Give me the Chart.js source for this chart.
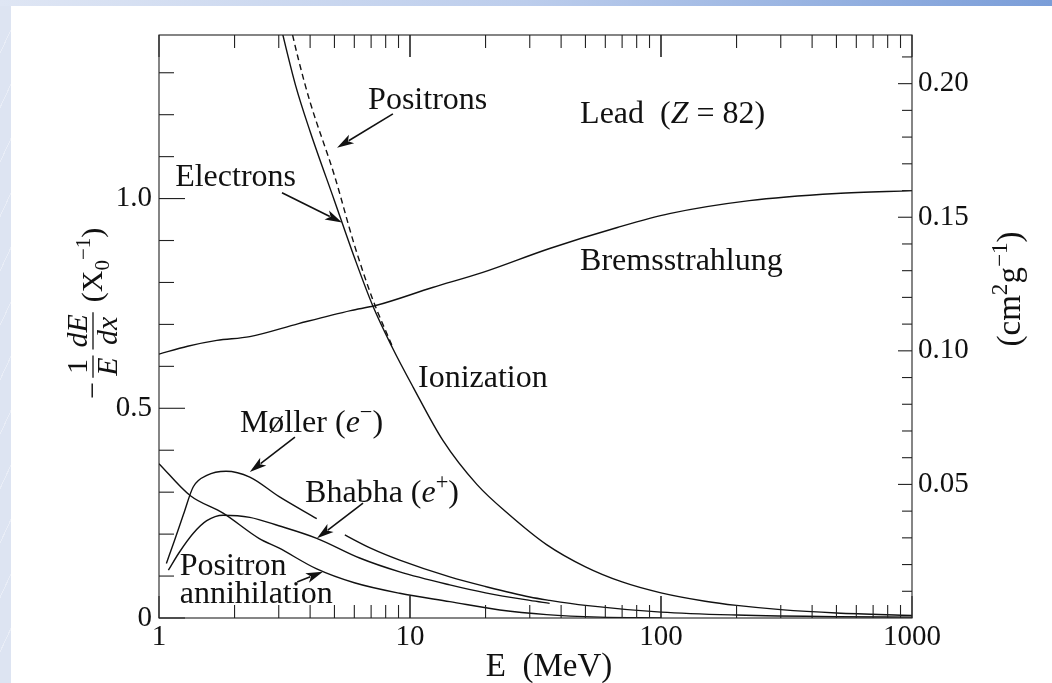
<!DOCTYPE html>
<html>
<head>
<meta charset="utf-8">
<script src="https://cdn.jsdelivr.net/npm/chart.js@4.4.1/dist/chart.umd.min.js"></script>
<style>
  html, body { margin: 0; padding: 0; }
  body { width: 1052px; height: 683px; position: relative; overflow: hidden;
    background: #dde4f2 repeating-linear-gradient(115deg, rgba(255,255,255,0) 0 22px, rgba(255,255,255,0.35) 22px 23px); }
  #banda { position: absolute; left: 0; top: 0; width: 1052px; height: 6px;
    background: linear-gradient(to right, #dfe6f4, #bccdec 50%, #7a9dd8); }
  #hoja { position: absolute; left: 11px; top: 6px; right: 0; bottom: 0; background: #fff; }
  #grafico { position: absolute; left: 0; top: 0; }
</style>
</head>
<body>
<div id="banda"></div>
<div id="hoja"></div>
<canvas id="grafico" width="1052" height="683"></canvas>
<script>
// energía en MeV, valores en X0^-1
const bremsE = [1, 1.3, 1.7, 2.3, 3.6, 5.8, 7.3, 12.3, 19.5, 36, 67, 108, 225, 500, 1000];
const bremsVal = [0.629, 0.648, 0.662, 0.671, 0.702, 0.733, 0.745, 0.788, 0.824, 0.881, 0.931, 0.964, 0.995, 1.012, 1.019];

const ionE = [3.0, 3.5, 4, 5, 6, 7.1, 8.5, 10.3, 13.5, 18.5, 25, 35, 50, 70, 100, 150, 200, 300, 500, 1000];
const ionElecVal = [1.43, 1.27, 1.16, 0.995, 0.86, 0.745, 0.645, 0.55, 0.424, 0.318, 0.245, 0.175, 0.122, 0.086, 0.06, 0.04, 0.03, 0.02, 0.012, 0.006];

const ionPosE = [3.2, 3.6, 4, 5, 6, 7.1, 8.5];
const ionPosVal = [1.46, 1.33, 1.23, 1.055, 0.89, 0.76, 0.648];

const mollerE = [1.07, 1.15, 1.25, 1.37, 1.55, 1.85, 2.3, 3, 4.25, 4.8, 5.5, 7, 9.1, 14.4, 20, 30, 36, 50, 100, 200, 500, 1000];
const mollerVal = [0.13, 0.183, 0.246, 0.313, 0.34, 0.35, 0.336, 0.29, 0.237, null, 0.198, 0.166, 0.138, 0.098, 0.075, 0.05, 0.042, 0.03, 0.014, 0.007, 0.003, 0.002];

const bhabhaE = [1.09, 1.2, 1.37, 1.55, 1.8, 2.3, 3, 4.25, 6.3, 9.1, 14.4, 20, 30, 36];
const bhabhaVal = [0.114, 0.155, 0.202, 0.232, 0.245, 0.24, 0.22, 0.19, 0.143, 0.11, 0.079, 0.06, 0.042, 0.035];

const aniqE = [1, 1.33, 1.8, 2.5, 3, 4.25, 6, 9.1, 14.4, 22.8, 35, 57, 100];
const aniqVal = [0.368, 0.292, 0.25, 0.19, 0.167, 0.117, 0.084, 0.059, 0.039, 0.019, 0.008, 0.002, 0.0];

const xTicks = [1, 10, 100, 1000];
const yTicks = [0, 0.5, 1.0];
const y2Ticks = [0.05, 0.10, 0.15, 0.20];
const X0_PLOMO = 6.37;   // g/cm^2, para el eje derecho
const Y_MAX = 1.39;

const SERIF = "'Liberation Serif', 'DejaVu Serif', serif";

const puntos = (es, vs) => es.map((e, i) => ({ x: e, y: vs[i] }));

const linea = (data, dash) => ({
  data,
  borderColor: '#111',
  borderWidth: 1.4,
  borderDash: dash || [],
  pointRadius: 0,
  fill: false,
  cubicInterpolationMode: 'monotone',
  spanGaps: false
});

// textos y flechas, en coordenadas de datos (E, valor)
const notas = [
  { e: 6.81, v: 1.214, partes: [{ t: 'Positrons' }] },
  { e: 1.16, v: 1.029, partes: [{ t: 'Electrons' }] },
  { e: 47.6, v: 1.179, partes: [{ t: 'Lead  (' }, { t: 'Z', it: true }, { t: ' = 82)' }] },
  { e: 47.6, v: 0.83, partes: [{ t: 'Bremsstrahlung' }] },
  { e: 10.76, v: 0.551, partes: [{ t: 'Ionization' }] },
  { e: 2.10, v: 0.443, partes: [{ t: 'Møller (' }, { t: 'e', it: true }, { t: '−', sup: true }, { t: ')' }] },
  { e: 3.82, v: 0.276, partes: [{ t: 'Bhabha (' }, { t: 'e', it: true }, { t: '+', sup: true }, { t: ')' }] },
  { e: 1.21, v: 0.102, partes: [{ t: 'Positron' }] },
  { e: 1.21, v: 0.036, partes: [{ t: 'annihilation' }] }
];

const flechas = [
  { de: [8.55, 1.202], a: [5.12, 1.121] },
  { de: [3.09, 1.014], a: [5.36, 0.943] },
  { de: [3.48, 0.431], a: [2.30, 0.348] },
  { de: [6.50, 0.274], a: [4.26, 0.19] },
  { de: [3.55, 0.086], a: [4.50, 0.110] }
];

function textoRico(ctx, x, y, partes, size, medir) {
  let cx = x;
  partes.forEach(p => {
    const fs = p.sup ? size * 0.7 : (p.sub ? size * 0.7 : size);
    ctx.font = `${p.it ? 'italic ' : ''}${fs}px ${SERIF}`;
    const dy = p.sup ? -size * 0.4 : (p.sub ? size * 0.22 : 0);
    if (!medir) ctx.fillText(p.t, cx, y + dy);
    cx += ctx.measureText(p.t).width;
  });
  return cx - x;
}

const marcoYTicks = {
  id: 'marcoYTicks',
  afterDatasetsDraw(chart) {
    const { ctx, chartArea: a, scales } = chart;
    ctx.save();
    ctx.strokeStyle = '#222';
    ctx.lineWidth = 1.1;
    const raya = (x1, y1, x2, y2) => { ctx.beginPath(); ctx.moveTo(x1, y1); ctx.lineTo(x2, y2); ctx.stroke(); };
    ctx.strokeRect(a.left, a.top, a.right - a.left, a.bottom - a.top);
    for (let d = 1; d < 1000; d *= 10) {
      for (let m = 1; m <= 10; m++) {
        const px = scales.x.getPixelForValue(d * m);
        const largo = (m === 1 || m === 10) ? 22 : 13;
        raya(px, a.bottom, px, a.bottom - largo);
        raya(px, a.top, px, a.top + largo);
      }
    }
    for (let i = 0; i <= 13; i++) {
      const py = scales.y.getPixelForValue(i / 10);
      raya(a.left, py, a.left + (i % 5 === 0 ? 26 : 15), py);
    }
    for (let i = 1; i <= 21; i++) {
      const py = scales.y2.getPixelForValue(i / 100);
      raya(a.right, py, a.right - (i % 5 === 0 ? 14 : 10), py);
    }
    ctx.restore();
  }
};

const anotaciones = {
  id: 'anotaciones',
  afterDraw(chart) {
    const { ctx, scales } = chart;
    const sx = e => scales.x.getPixelForValue(e);
    const sy = v => scales.y.getPixelForValue(v);
    ctx.save();
    ctx.fillStyle = '#111';
    ctx.strokeStyle = '#111';
    ctx.textBaseline = 'alphabetic';
    notas.forEach(n => textoRico(ctx, sx(n.e), sy(n.v), n.partes, 32));

    flechas.forEach(f => {
      const x1 = sx(f.de[0]), y1 = sy(f.de[1]), x2 = sx(f.a[0]), y2 = sy(f.a[1]);
      const ang = Math.atan2(y2 - y1, x2 - x1);
      const L = 17, W = 5;
      ctx.lineWidth = 1.6;
      ctx.beginPath();
      ctx.moveTo(x1, y1);
      ctx.lineTo(x2 - Math.cos(ang) * L * 0.8, y2 - Math.sin(ang) * L * 0.8);
      ctx.stroke();
      ctx.beginPath();
      ctx.moveTo(x2, y2);
      ctx.lineTo(x2 - Math.cos(ang) * L - Math.sin(ang) * W, y2 - Math.sin(ang) * L + Math.cos(ang) * W);
      ctx.lineTo(x2 - Math.cos(ang) * L * 0.75, y2 - Math.sin(ang) * L * 0.75);
      ctx.lineTo(x2 - Math.cos(ang) * L + Math.sin(ang) * W, y2 - Math.sin(ang) * L - Math.cos(ang) * W);
      ctx.closePath();
      ctx.fill();
    });

    // título eje x
    ctx.font = `33px ${SERIF}`;
    ctx.textAlign = 'center';
    ctx.fillText('E  (MeV)', 549, 676);
    ctx.textAlign = 'left';

    // título eje izquierdo: −(1/E)(dE/dx) (X0^-1)
    const fs = 30;
    ctx.save();
    ctx.translate(93, 309);
    ctx.rotate(-Math.PI / 2);
    const fraccion = (x, num, den) => {
      const wn = textoRico(ctx, 0, 0, num, fs, true);
      const wd = textoRico(ctx, 0, 0, den, fs, true);
      const w = Math.max(wn, wd) + 4;
      textoRico(ctx, x + (w - wn) / 2, -6, num, fs);
      textoRico(ctx, x + (w - wd) / 2, 24, den, fs);
      ctx.lineWidth = 1.3;
      ctx.beginPath(); ctx.moveTo(x, 0); ctx.lineTo(x + w, 0); ctx.stroke();
      return w;
    };
    const cola = [{ t: '(X' }, { t: '0', sub: true }, { t: '−1', sup: true }, { t: ')' }];
    const wMenos = textoRico(ctx, 0, 0, [{ t: '−' }], fs, true);
    const wCola = textoRico(ctx, 0, 0, cola, fs, true);
    const total = wMenos + 4 + 24 + 6 + 44 + 10 + wCola;
    let x = -total / 2;
    textoRico(ctx, x, 9, [{ t: '−' }], fs); x += wMenos + 4;
    x += fraccion(x, [{ t: '1' }], [{ t: 'E', it: true }]) + 6;
    x += fraccion(x, [{ t: 'dE', it: true }], [{ t: 'dx', it: true }]) + 10;
    textoRico(ctx, x, 9, cola, fs);
    ctx.restore();

    // título eje derecho: (cm^2 g^-1)
    ctx.save();
    ctx.translate(1020, 289);
    ctx.rotate(-Math.PI / 2);
    const der = [{ t: '(cm' }, { t: '2', sup: true }, { t: 'g' }, { t: '−1', sup: true }, { t: ')' }];
    const wDer = textoRico(ctx, 0, 0, der, 33, true);
    textoRico(ctx, -wDer / 2, 0, der, 33);
    ctx.restore();

    ctx.restore();
  }
};

const cerca = (v, lista) => lista.some(t => Math.abs(v - t) < 1e-6 * Math.max(1, t));

new Chart(document.getElementById('grafico').getContext('2d'), {
  type: 'line',
  data: {
    datasets: [
      linea(puntos(bremsE, bremsVal)),
      linea(puntos(ionE, ionElecVal)),
      linea(puntos(ionPosE, ionPosVal), [6, 4]),
      linea(puntos(mollerE, mollerVal)),
      linea(puntos(bhabhaE, bhabhaVal)),
      linea(puntos(aniqE, aniqVal))
    ]
  },
  options: {
    responsive: false,
    animation: false,
    layout: { padding: { top: 35, left: 0, right: 0, bottom: 0 } },
    plugins: { legend: { display: false }, tooltip: { enabled: false } },
    scales: {
      x: {
        type: 'logarithmic',
        min: 1,
        max: 1000,
        grid: { display: false, drawTicks: false },
        border: { display: false },
        afterFit: s => { s.height = 65; },
        ticks: {
          autoSkip: false,
          maxRotation: 0,
          padding: 2,
          color: '#111',
          font: { family: SERIF, size: 29 },
          callback: v => cerca(v, xTicks) ? String(Math.round(v)) : ''
        }
      },
      y: {
        min: 0,
        max: Y_MAX,
        grid: { display: false, drawTicks: false },
        border: { display: false },
        afterFit: s => { s.width = 159; },
        ticks: {
          stepSize: 0.1,
          autoSkip: false,
          padding: 7,
          color: '#111',
          font: { family: SERIF, size: 29 },
          callback: v => cerca(v, yTicks) ? (v === 0 ? '0' : v.toFixed(1)) : ''
        }
      },
      y2: {
        position: 'right',
        min: 0,
        max: Y_MAX / X0_PLOMO,
        grid: { display: false, drawTicks: false },
        border: { display: false },
        afterFit: s => { s.width = 140; },
        ticks: {
          stepSize: 0.01,
          autoSkip: false,
          padding: 6,
          color: '#111',
          font: { family: SERIF, size: 29 },
          callback: v => cerca(v, y2Ticks) ? v.toFixed(2) : ''
        }
      }
    }
  },
  plugins: [marcoYTicks, anotaciones]
});
</script>
</body>
</html>
